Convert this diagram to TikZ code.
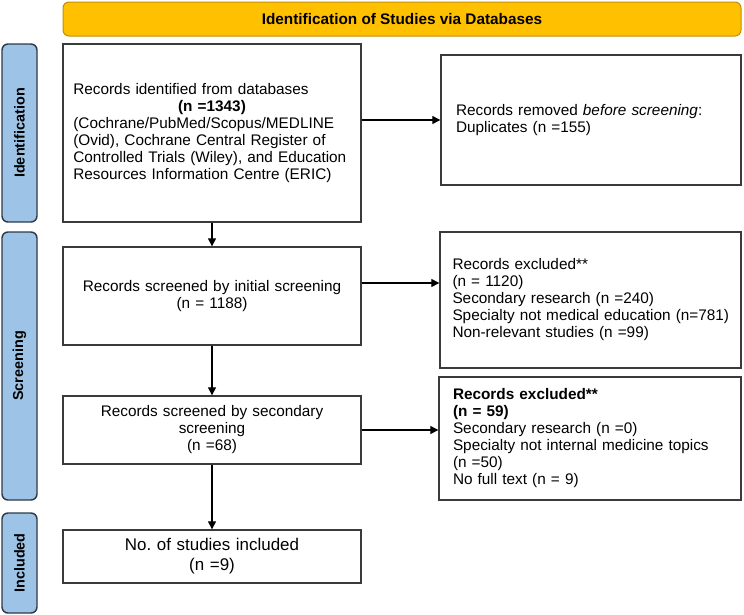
\documentclass[tikz,border=0pt]{standalone}
\usepackage{fontspec}
\setmainfont{Liberation Sans}
\usepackage{xcolor}
\usetikzlibrary{arrows.meta,calc,positioning}
\definecolor{headfill}{HTML}{FFC000}
\definecolor{headline}{HTML}{C09000}
\definecolor{phasefill}{HTML}{9DC3E6}
\definecolor{phaseline}{HTML}{2E3A48}
\definecolor{boxline}{HTML}{3A3A3A}
\frenchspacing

\begin{document}
\begin{tikzpicture}[x=0.75pt,y=-0.75pt,
  box/.style={draw=boxline,line width=1pt,inner sep=0pt,font=\fontsize{11.5}{12.75}\selectfont},
  phase/.style={draw=phaseline,line width=1.1pt,fill=phasefill,rounded corners=4.5pt,rotate=90,
    minimum height=26.25pt,inner sep=0pt,font=\fontsize{10.8}{12}\selectfont\bfseries},
  arr/.style={-{Triangle[length=6pt,width=6pt]},line width=0.8pt}]
\useasboundingbox (0,0) rectangle (744,615);
\node[draw=headline,line width=0.75pt,fill=headfill,rounded corners=4.5pt,minimum width=508.5pt,minimum height=25.5pt,
  font=\fontsize{11.5}{13}\selectfont\bfseries] (head) at (402,19) {Identification of Studies via Databases};
\node[phase,minimum width=133.5pt] (idn) at (19.5,133) {Identification};
\node[phase,minimum width=201pt] (scr) at (19.5,366) {Screening};
\node[phase,minimum width=75pt] (inc) at (19.5,563) {Included};
\node[box,minimum width=223.5pt,minimum height=133.5pt,text width=208pt,align=left] (found) at (212,133)
  {Records identified from databases\\
   \hbox to\hsize{\hfil\textbf{(n =1343)}\hfil}
   (Cochrane/PubMed/Scopus/MEDLINE\\
   (Ovid), Cochrane Central Register of\\
   Controlled Trials (Wiley), and Education\\
   Resources Information Centre (ERIC)};
\node[box,minimum width=225pt,minimum height=97.5pt,text width=202.5pt,align=left] (dupl) at (591,120)
  {Records removed \textit{before screening}:\\ Duplicates (n =155)};
\node[box,minimum width=223.5pt,minimum height=73.5pt,text width=202.5pt,align=center] (first) at (212,296)
  {Records screened by initial screening\\ (n = 1188)};
\node[box,minimum width=225.75pt,minimum height=102pt,text width=207pt,align=left] (excl1) at (590.5,300)
  {Records excluded**\\ (n = 1120)\\ Secondary research (n =240)\\
   \mbox{Specialty not medical education (n=781)}\\ Non-relevant studies (n =99)};
\node[box,minimum width=223.5pt,minimum height=51pt,text width=202.5pt,align=center] (second) at (212,430)
  {Records screened by secondary\\ screening\\ (n =68)};
\node[box,minimum width=226.5pt,minimum height=92.25pt,text width=205.5pt,align=left] (excl2) at (590,438.5)
  {\textbf{Records excluded**}\\ \textbf{(n = 59)}\\ Secondary research (n =0)\\
   Specialty not internal medicine topics\\ (n =50)\\ No full text (n = 9)};
\node[box,minimum width=223.5pt,minimum height=39.75pt,text width=202.5pt,align=center,
  font=\fontsize{12.7}{15}\selectfont] (final) at (212,556.5) {No. of studies included\\ (n =9)};
\draw[arr] (dupl.west -| found.east) -- (dupl.west);
\draw[arr] (found.south) -- (first.north);
\coordinate (e3) at ($(first.east)+(0,-13)$);
\draw[arr] (e3) -- (e3 -| excl1.west);
\draw[arr] (first.south) -- (second.north);
\draw[arr] (second.east) -- (second.east -| excl2.west);
\draw[arr] (second.south) -- (final.north);
\end{tikzpicture}
\end{document}
